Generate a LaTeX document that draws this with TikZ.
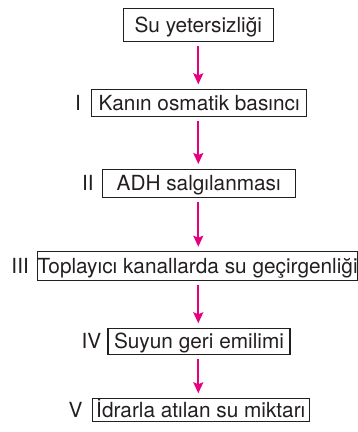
\documentclass[tikz,border=0pt]{standalone}
\usepackage{fontspec}
\setmainfont{TeX Gyre Heros}
\usepackage{xcolor}
\usetikzlibrary{positioning, arrows.meta}

\definecolor{yazi}{HTML}{231F20}
\definecolor{pembe}{HTML}{E6007E}

\begin{document}
\begin{tikzpicture}[x=1pt, y=-1pt]

		\tikzstyle{kutu}=[draw=yazi, line width=1.1pt, text=yazi, inner sep=0pt, text height=15pt, text depth=0pt, font=\fontsize{20.8}{25}\selectfont]
		\tikzstyle{etiket}=[text=yazi, inner sep=0pt, text height=15pt, text depth=0pt, font=\fontsize{20.8}{25}\selectfont]
		\tikzstyle{ok}=[draw=pembe, line width=1.8pt, -{Stealth[length=11pt, width=10pt, inset=2pt]}, shorten <=4pt, shorten >=4.5pt]

		\useasboundingbox (0,0) rectangle (358,432);

		\node (b1) at (198.3, 25.0) [kutu, minimum width=150pt, minimum height=33.4pt] {Su yetersizliği};
		\node (b2) at (199.2, 102.7) [kutu, minimum width=215pt, minimum height=26.7pt] {Kanın osmatik basıncı};
		\node (b3) at (198.7, 183.2) [kutu, minimum width=192.7pt, minimum height=28.3pt] {ADH salgılanması};
		\node (b4) at (197.6, 265.9) [kutu, minimum width=318.5pt, minimum height=28.3pt] {Toplayıcı kanallarda su geçirgenliği};
		\node (b5) at (199.0, 341.3) [kutu, minimum width=182pt, minimum height=26pt] {Suyun geri emilimi};
		\node (b6) at (200.8, 410.0) [kutu, minimum width=217pt, minimum height=23.4pt] {İdrarla atılan su miktarı};

		\node (e2) [etiket, left=10pt of b2] {I};
		\node (e3) [etiket, left=8pt of b3] {II};
		\node (e4) [etiket, left=8pt of b4] {III};
		\node (e5) [etiket, left=6pt of b5] {IV};
		\node (e6) [etiket, left=9pt of b6] {V};

		\draw [ok] (b1.south) -- (b1.south |- b2.north);
		\draw [ok] (b2.south -| b1.south) -- (b1.south |- b3.north);
		\draw [ok] (b3.south -| b1.south) -- (b1.south |- b4.north);
		\draw [ok] (b4.south -| b1.south) -- (b1.south |- b5.north);
		\draw [ok] (b5.south -| b1.south) -- (b1.south |- b6.north);

\end{tikzpicture}
\end{document}
